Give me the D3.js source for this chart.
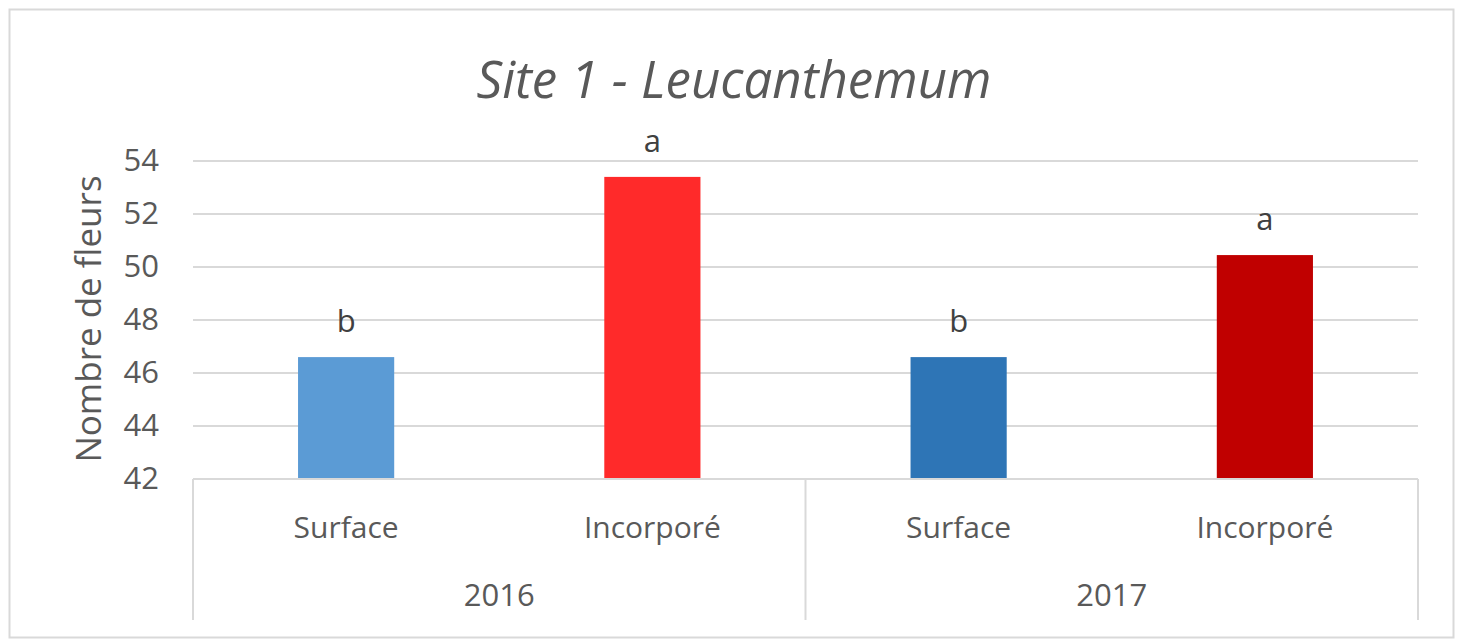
<!DOCTYPE html>
<html><head><meta charset="utf-8">
<script src="https://cdn.jsdelivr.net/npm/d3@7"></script>
<style>body{margin:0;background:#fff;}svg{display:block;}text{font-family:"Open Sans",sans-serif;fill:#595959;}</style>
</head><body>
<script>
const years = ["2016", "2017"];
const categories = ["Surface", "Incorporé", "Surface", "Incorporé"];
const values = [46.6, 53.4, 46.6, 50.45];
const letters = ["b", "a", "b", "a"];
const colors = ["#5B9BD5", "#FF2A2A", "#2E75B6", "#C00000"];
const yTicks = [42, 44, 46, 48, 50, 52, 54];
const title = "Site 1 - Leucanthemum";
const yTitle = "Nombre de fleurs";

(function () {
const W = 1460, H = 643;
const svg = d3.select("body").append("svg").attr("width", W).attr("height", H);
svg.append("rect").attr("x", 9.5).attr("y", 9.5).attr("width", 1444).attr("height", 628)
  .attr("fill", "#fff").attr("stroke", "#D9D9D9").attr("stroke-width", 2);

const pl = 193, pr = 1418, pt = 161, pb = 479;
const idx = d3.range(values.length);
const x = d3.scaleBand().domain(idx).range([pl, pr]).paddingInner(0.686).paddingOuter(0.343);
const y = d3.scaleLinear().domain([42, 54]).range([pb, pt]);

svg.append("g").selectAll("line").data(yTicks.slice(1)).join("line")
  .attr("x1", pl).attr("x2", pr).attr("y1", d => y(d)).attr("y2", d => y(d))
  .attr("stroke", "#D9D9D9").attr("stroke-width", 2);

const yAxis = d3.axisLeft(y).tickValues(yTicks).tickSize(0).tickPadding(34);
const ga = svg.append("g").attr("transform", `translate(${pl},0)`).call(yAxis);
ga.select(".domain").remove();
ga.selectAll("text").style("font-size", "31px").attr("fill", "#595959").style("font-family", "'Open Sans',sans-serif");

svg.append("g").selectAll("rect").data(idx).join("rect")
  .attr("x", i => x(i)).attr("width", x.bandwidth())
  .attr("y", i => y(values[i])).attr("height", i => y(42) - y(values[i]))
  .attr("fill", i => colors[i]);

svg.append("g").selectAll("text").data(idx).join("text")
  .attr("x", i => x(i) + x.bandwidth() / 2).attr("y", i => y(values[i]) - 25)
  .attr("text-anchor", "middle").style("font-size", "31px").style("fill", "#404040")
  .text(i => letters[i]);

svg.append("line").attr("x1", pl).attr("x2", pr).attr("y1", pb).attr("y2", pb)
  .attr("stroke", "#D9D9D9").attr("stroke-width", 2);
const yearScale = d3.scaleBand().domain(years).range([pl, pr]);
const seps = [pl, ...years.map(yr => yearScale(yr) + yearScale.bandwidth())];
svg.append("g").selectAll("line").data(seps).join("line")
  .attr("x1", d => d).attr("x2", d => d).attr("y1", pb).attr("y2", 620)
  .attr("stroke", "#D9D9D9").attr("stroke-width", 2);

svg.append("g").selectAll("text").data(idx).join("text")
  .attr("x", i => x(i) + x.bandwidth() / 2).attr("y", 538)
  .attr("text-anchor", "middle").style("font-size", "30px")
  .text(i => categories[i]);

svg.append("g").selectAll("text").data(years).join("text")
  .attr("x", d => yearScale(d) + yearScale.bandwidth() / 2).attr("y", 606)
  .attr("text-anchor", "middle").style("font-size", "31px")
  .text(d => d);

svg.append("text").attr("x", 734).attr("y", 98).attr("text-anchor", "middle")
  .style("font-size", "51px").style("font-style", "italic").text(title);

svg.append("text").attr("transform", `translate(101,319) rotate(-90)`).attr("text-anchor", "middle")
  .style("font-size", "35px").text(yTitle);
})();
</script>
</body></html>
